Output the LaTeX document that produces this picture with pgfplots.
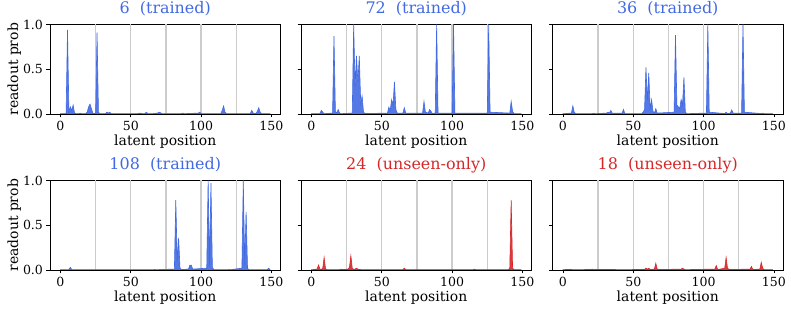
\documentclass[border=0pt]{standalone}
\usepackage{fontspec}
\setmainfont{DejaVu Serif}
\usepackage{pgfplots}
\pgfplotsset{compat=1.18}

\definecolor{royal}{RGB}{65,105,225}
\definecolor{tabred}{RGB}{214,39,40}
\definecolor{vgrid}{RGB}{204,204,204}

\pgfplotsset{
  panel/.style={
    width=230.5bp, height=89.5bp, scale only axis,
    xmin=-7.45, xmax=156.45, ymin=0, ymax=1,
    xtick={0,50,100,150}, ytick={0,0.5,1},
    tick pos=left, tick align=outside,
    major tick length=3.5bp,
    every tick/.style={black, line width=0.8bp},
    axis line style={black, line width=0.8bp},
    extra x ticks={25,50,75,100,125},
    extra x tick labels={},
    extra x tick style={grid=major, major tick length=0pt,
      grid style={color=vgrid, line width=1.3bp}},
    /pgf/number format/assume math mode=true,
    yticklabel style={/pgf/number format/fixed,
      /pgf/number format/precision=1,
      /pgf/number format/fixed zerofill},
    ticklabel style={font=\fontsize{12.6}{15}\selectfont},
    label style={font=\fontsize{14}{17}\selectfont},
    xlabel={latent position},
    xlabel style={at={([yshift=-31.6bp]axis description cs:0.5,0)}, anchor=base},
    ylabel style={at={([xshift=-32bp]axis description cs:0,0.5)}, anchor=base},
    title style={font=\fontsize{16}{19}\selectfont, anchor=base,
      at={([yshift=5.2bp]axis description cs:0.5,1)}},
  },
  leftcol/.style={ylabel={readout prob}},
  innercol/.style={yticklabels={}},
  trained/.style={title style={text=royal}},
  unseen/.style={title style={text=tabred}},
}

% grey line along y = 0, drawn beneath the filled profile
\newcommand{\baseline}{\draw[gray!80, line width=0.8bp] (rel axis cs:0,0) -- (rel axis cs:1,0);}

\begin{document}
\begin{tikzpicture}
\useasboundingbox (0,0) rectangle (791bp,312bp);

% ---- row 1 ----
\begin{axis}[panel, leftcol, trained, title={6\ \ (trained)},
  at={(50bp,198bp)}, anchor=south west]
\baseline
\addplot[fill=royal, fill opacity=0.9, draw=royal, line width=0.6bp] coordinates {
(0,0.003) (1,0.004) (2,0.003) (3,0.004) (4,0.006) (5,0.94) (6,0.02) (7,0.08)
(8,0.04) (9,0.1) (10,0.01) (11,0.004) (13,0.004) (14,0.01) (15,0.004) (18,0.005)
(19,0.02) (20,0.08) (21,0.11) (22,0.06) (23,0.01) (24,0.005) (25,0.01) (26,0.91)
(27,0.02) (28,0.005) (32,0.005) (33,0.02) (34,0.01) (35,0.02) (36,0.005) (45,0.004)
(55,0.005) (57,0.01) (58,0.005) (60,0.005) (61,0.02) (62,0.005) (66,0.005) (69,0.01)
(70,0.02) (71,0.015) (72,0.005) (86,0.005) (87,0.01) (88,0.004) (98,0.01) (99,0.02)
(100,0.005) (114,0.005) (115,0.04) (116,0.09) (117,0.02) (118,0.005) (135,0.005)
(136,0.04) (137,0.01) (139,0.005) (140,0.03) (141,0.07) (142,0.02) (143,0.005) (149,0.003)
} \closedcycle;
\end{axis}

\begin{axis}[panel, innercol, trained, title={72\ \ (trained)},
  at={(301bp,198bp)}, anchor=south west]
\baseline
\addplot[fill=royal, fill opacity=0.9, draw=royal, line width=0.6bp] coordinates {
(0,0.003) (6,0.005) (7,0.04) (8,0.02) (9,0.004) (15,0.01) (16,0.87) (17,0.03)
(18,0.01) (19,0.05) (20,0.01) (21,0.004) (29,0.01) (30,1.0) (31,0.3) (32,0.65)
(33,0.35) (34,0.65) (35,0.12) (36,0.2) (37,0.02) (38,0.005) (54,0.01) (55,0.075)
(56,0.04) (57,0.16) (58,0.1) (59,0.36) (60,0.05) (61,0.01) (65,0.01) (66,0.07)
(67,0.01) (79,0.01) (80,0.14) (81,0.02) (83,0.01) (84,0.05) (85,0.03) (86,0.005)
(88,0.01) (89,1.0) (90,0.01) (100,0.01) (101,1.0) (102,0.01) (125,0.01) (126,1.0)
(127,0.02) (141,0.01) (142,0.14) (143,0.03) (144,0.005) (149,0.003)
} \closedcycle;
\end{axis}

\begin{axis}[panel, innercol, trained, title={36\ \ (trained)},
  at={(552.5bp,198bp)}, anchor=south west]
\baseline
\addplot[fill=royal, fill opacity=0.9, draw=royal, line width=0.6bp] coordinates {
(0,0.003) (6,0.01) (7,0.09) (8,0.02) (9,0.004) (21,0.005) (22,0.01) (23,0.004)
(31,0.01) (32,0.02) (33,0.01) (34,0.04) (35,0.01) (42,0.01) (43,0.05) (44,0.005)
(56,0.005) (57,0.02) (58,0.05) (59,0.52) (60,0.15) (61,0.46) (62,0.05) (63,0.16)
(64,0.03) (65,0.01) (66,0.06) (67,0.01) (79,0.02) (80,0.88) (81,0.1) (82,0.08)
(83,0.06) (84,0.16) (85,0.1) (86,0.41) (87,0.02) (88,0.004) (102,0.01) (103,1.0)
(104,0.02) (115,0.005) (116,0.02) (117,0.005) (119,0.01) (120,0.045) (121,0.01)
(127,0.01) (128,1.0) (129,0.02) (141,0.005) (142,0.01) (143,0.004) (149,0.003)
} \closedcycle;
\end{axis}

% ---- row 2 ----
\begin{axis}[panel, leftcol, trained, title={108\ \ (trained)},
  at={(50bp,42bp)}, anchor=south west]
\baseline
\addplot[fill=royal, fill opacity=0.9, draw=royal, line width=0.6bp] coordinates {
(0,0.003) (6,0.005) (7,0.03) (8,0.005) (66,0.004) (67,0.006) (68,0.004) (81,0.01)
(82,0.78) (83,0.1) (84,0.36) (85,0.02) (86,0.005) (91,0.01) (92,0.055) (93,0.055)
(94,0.01) (104,0.02) (105,1.0) (106,0.05) (107,0.97) (108,0.03) (109,0.005)
(119,0.004) (120,0.006) (121,0.004) (129,0.02) (130,1.0) (131,0.05) (132,0.65)
(133,0.02) (134,0.004) (147,0.005) (148,0.02) (149,0.004)
} \closedcycle;
\end{axis}

\begin{axis}[panel, innercol, unseen, title={24\ \ (unseen-only)},
  at={(301bp,42bp)}, anchor=south west]
\baseline
\addplot[fill=tabred, fill opacity=0.9, draw=tabred, line width=0.6bp] coordinates {
(0,0.003) (4,0.01) (5,0.056) (6,0.01) (7,0.005) (8,0.02) (9,0.14) (10,0.01)
(11,0.004) (20,0.005) (21,0.01) (22,0.005) (26,0.01) (27,0.03) (28,0.16) (29,0.02)
(30,0.005) (31,0.01) (32,0.02) (33,0.01) (35,0.005) (46,0.004) (65,0.005) (66,0.02)
(67,0.005) (115,0.005) (116,0.01) (117,0.004) (140,0.005) (141,0.02) (142,0.78)
(143,0.02) (144,0.004) (149,0.003)
} \closedcycle;
\end{axis}

\begin{axis}[panel, innercol, unseen, title={18\ \ (unseen-only)},
  at={(552.5bp,42bp)}, anchor=south west]
\baseline
\addplot[fill=tabred, fill opacity=0.9, draw=tabred, line width=0.6bp] coordinates {
(0,0.004) (3,0.006) (10,0.004) (20,0.006) (21,0.01) (22,0.005) (35,0.006) (40,0.004)
(58,0.006) (59,0.02) (60,0.01) (61,0.02) (62,0.005) (65,0.01) (66,0.075) (67,0.01)
(68,0.005) (84,0.01) (85,0.02) (86,0.01) (87,0.004) (108,0.01) (109,0.05) (110,0.005)
(115,0.02) (116,0.14) (117,0.02) (118,0.005) (133,0.01) (134,0.04) (135,0.005)
(140,0.01) (141,0.085) (142,0.02) (143,0.004) (149,0.004)
} \closedcycle;
\end{axis}
\end{tikzpicture}
\end{document}
